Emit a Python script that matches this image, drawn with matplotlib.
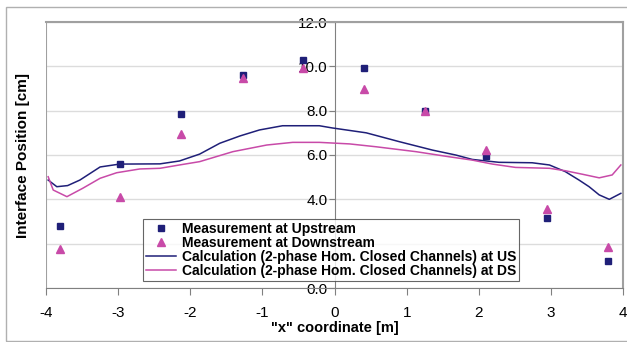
import matplotlib
matplotlib.use("Agg")
import matplotlib.pyplot as plt
from matplotlib.patches import Rectangle

plt.rcParams['font.family'] = ['Liberation Sans', 'DejaVu Sans']
plt.rcParams['axes.unicode_minus'] = False

# Measurements
meas_x_us = [-3.81, -2.98, -2.13, -1.27, -0.44, 0.415, 1.25, 2.10, 2.95, 3.79]
meas_us = [2.80, 5.59, 7.86, 9.61, 10.28, 9.92, 8.00, 5.97, 3.17, 1.23]
meas_x_ds = [-3.81, -2.98, -2.13, -1.27, -0.44, 0.415, 1.25, 2.10, 2.95, 3.79]
meas_ds = [1.74, 4.12, 6.96, 9.46, 9.91, 9.00, 7.98, 6.22, 3.56, 1.85]

# Calculations
calc_x_us = [-3.97, -3.85, -3.70, -3.53, -3.25, -2.98, -2.42, -2.15, -1.87, -1.59,
             -1.31, -1.04, -0.72, -0.21, -0.03, 0.44, 0.90, 1.36, 1.68, 1.91,
             2.28, 2.74, 2.98, 3.20, 3.39, 3.53, 3.67, 3.81, 3.97]
calc_us = [4.87, 4.57, 4.62, 4.87, 5.46, 5.59, 5.60, 5.73, 6.04, 6.53,
           6.86, 7.13, 7.32, 7.32, 7.22, 7.00, 6.60, 6.22, 6.00, 5.80,
           5.67, 5.65, 5.55, 5.25, 4.87, 4.57, 4.20, 4.00, 4.27]
calc_x_ds = [-3.97, -3.90, -3.71, -3.49, -3.25, -3.02, -2.70, -2.42, -2.15, -1.87,
             -1.41, -0.94, -0.58, -0.21, 0.21, 0.58, 1.13, 1.59, 1.91, 2.19,
             2.51, 2.98, 3.20, 3.44, 3.67, 3.85, 3.97]
calc_ds = [5.02, 4.42, 4.12, 4.50, 4.95, 5.20, 5.37, 5.40, 5.55, 5.70,
           6.15, 6.45, 6.57, 6.57, 6.50, 6.37, 6.15, 5.92, 5.77, 5.59,
           5.44, 5.40, 5.29, 5.13, 4.97, 5.10, 5.55]

labels = ["Measurement at Upstream", "Measurement at Downstream",
          "Calculation (2-phase Hom. Closed Channels) at US",
          "Calculation (2-phase Hom. Closed Channels) at DS"]
yticks = [0, 2, 4, 6, 8, 10, 12]

navy = '#1f1f78'
pink = '#c84aa8'

fig = plt.figure(figsize=(6.27, 3.42), dpi=100)
fig.patches.append(Rectangle((6/627, 1/342), 1.2, (340-6)/342, transform=fig.transFigure,
                             fill=False, edgecolor='#b0b0b0', linewidth=1.0))
ax = fig.add_axes([46/627, (342-288)/342, (623-46)/627, (288-22)/342])

l1, = ax.plot(calc_x_us, calc_us, color=navy, lw=1.1, zorder=3)
l2, = ax.plot(calc_x_ds, calc_ds, color=pink, lw=1.1, zorder=3)
h1, = ax.plot(meas_x_us, meas_us, 's', color=navy, ms=5, zorder=4)
h2, = ax.plot(meas_x_ds, meas_ds, '^', color=pink, ms=6, zorder=4)

ax.set_xlim(-4, 4)
ax.set_ylim(0, 12)
ax.set_xticks(range(-4, 5))
ax.set_yticks(yticks)
# the 2.0 label is hidden behind the legend box in the original
ax.set_yticklabels([f"{v:.1f}" if v != 2 else "" for v in yticks])
ax.grid(axis='y', color='#dcdcdc', lw=1.0)
ax.set_axisbelow(True)

for s in ['top', 'right']:
    ax.spines[s].set_color('#a0a0a0')
    ax.spines[s].set_linewidth(1.5)
ax.spines['bottom'].set_color('#808080')
ax.spines['left'].set_position(('data', 0))
ax.spines['left'].set_color('#808080')

# left frame of plot area
ax.axvline(-4, color='#a0a0a0', lw=1.5, zorder=1)

ax.tick_params(axis='x', direction='out', length=5, color='#808080', labelsize=11, pad=8)
ax.tick_params(axis='y', direction='out', length=4, color='#808080', labelsize=11, pad=1)

ax.set_xlabel('"x" coordinate [m]', fontsize=10.5, fontweight='bold', labelpad=1)
ax.set_ylabel('Interface Position [cm]', fontsize=11, fontweight='bold')
ax.yaxis.set_label_coords(-0.028, 0.5)

leg = ax.legend([h1, h2, l1, l2], labels, loc='lower left',
                bbox_to_anchor=((143-46)/577, (288-281)/266),
                fontsize=10, frameon=True, fancybox=False, borderpad=0.2, labelspacing=0.0,
                handlelength=2.2, handletextpad=0.4, borderaxespad=0)
leg.get_frame().set_edgecolor('#404040')
leg.get_frame().set_linewidth(0.8)
for t in leg.get_texts():
    t.set_fontweight('bold')

fig.savefig('out.png', dpi=100)
